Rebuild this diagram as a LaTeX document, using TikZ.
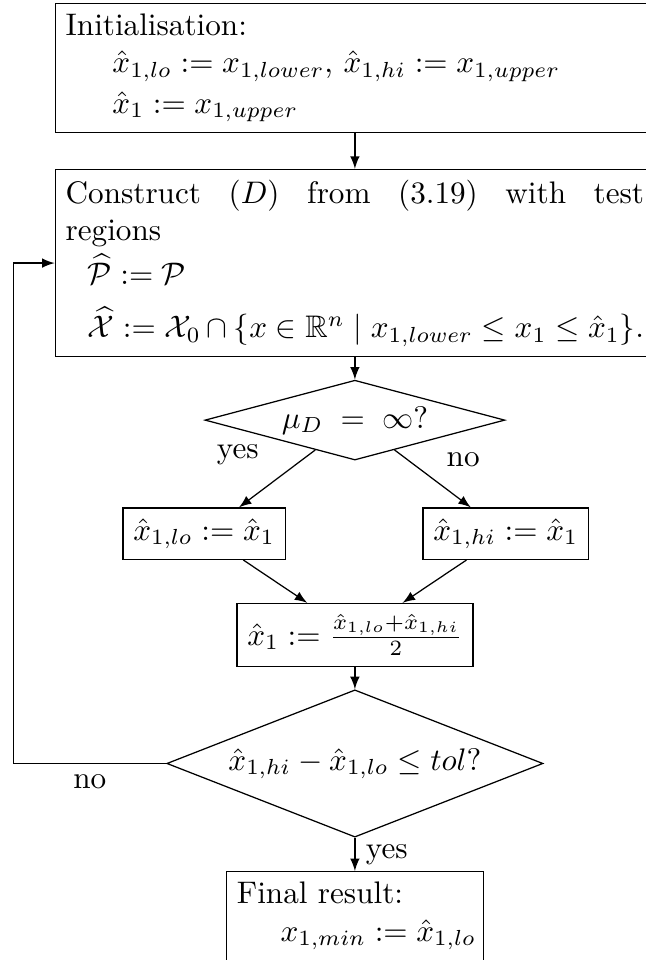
\documentclass[tikz,border=0pt]{standalone}
\usepackage{amsmath,amssymb}
\usetikzlibrary{positioning,shapes.geometric}

\begin{document}
\begin{tikzpicture}[>=latex,node distance=2cm,on grid,auto,
    box/.style={draw,rectangle,text width=6.52cm,align=justify},
    smallbox/.style={draw,rectangle},
    decide/.style={draw,diamond,inner sep=0pt}]
  \useasboundingbox (0,0) rectangle (7.28,-10.82);
  \node[box] (init) at (4.0,-0.765) {Initialisation:\\
    \hspace*{1.5em}$\hat{x}_{1,lo} := x_{1,lower}$, $\hat{x}_{1,hi} := x_{1,upper}$\\[1pt]
    \hspace*{1.5em}$\hat{x}_1 := x_{1,upper}$};
  \node[box] (construct) [below=2.2cm of init] {Construct $(D)$ from (3.19) with test\linebreak
    regions\\[2pt]
    \hspace*{0.7em}$\widehat{\mathcal{P}} := \mathcal{P}$\\[5pt]
    \hspace*{0.7em}$\widehat{\mathcal{X}} := \mathcal{X}_0 \cap \{x \in \mathbb{R}^n \mid x_{1,lower} \leq x_1 \leq \hat{x}_1\}$.};
  \node[decide,aspect=4,minimum width=3.38cm,minimum height=0.9cm] (dinf) [below=1.77cm of construct] {$\mu_D \;=\; \infty$?};
  \node[smallbox] (lo) [below left=1.28cm and 1.70cm of dinf] {$\hat{x}_{1,lo} := \hat{x}_1$};
  \node[smallbox] (hi) [below right=1.28cm and 1.70cm of dinf] {$\hat{x}_{1,hi} := \hat{x}_1$};
  \node[smallbox] (mid) [below=2.42cm of dinf] {$\hat{x}_1 := \frac{\hat{x}_{1,lo}+\hat{x}_{1,hi}}{2}$};
  \node[decide,aspect=2.55,minimum width=4.24cm,minimum height=1.66cm] (dtol) [below=1.45cm of mid] {$\hat{x}_{1,hi} - \hat{x}_{1,lo} \leq tol$?};
  \node[draw,rectangle,text width=2.66cm] (final) [below=1.72cm of dtol] {Final result:\\
    \hspace*{1.4em}\mbox{$x_{1,min} := \hat{x}_{1,lo}$}};
  % branch labels
  \node (yes1) [below left=0.39cm and 1.32cm of dinf] {yes};
  \node (no1) [below right=0.45cm and 1.22cm of dinf] {no};
  \path[->]
    (init) edge (construct)
    (construct) edge (dinf)
    (dinf) edge (lo)
    (dinf) edge (hi)
    (lo) edge (mid)
    (hi) edge (mid)
    (mid) edge (dtol)
    (dtol) edge node {yes} (final);
  \draw[->] (dtol.west) -- node[below] {no} ++(-1.72,0) |- (construct.west);
\end{tikzpicture}
\end{document}
